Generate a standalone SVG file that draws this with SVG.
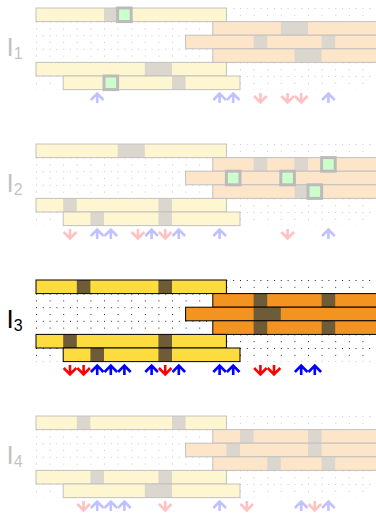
<svg xmlns="http://www.w3.org/2000/svg" xmlns:xlink="http://www.w3.org/1999/xlink" width="376" height="514" viewBox="0 0 376 514">
<style>
.y{fill:#FDDC3F}
.o{fill:#F49420}
.d{fill:#6E5C38}
.ol{fill:none;stroke:#000;stroke-width:1}
.hl{fill:#CCFFCC;stroke:#BBBBBB;stroke-width:3}
.ar{fill:none;stroke-width:2.6;stroke-linejoin:miter}
.up{stroke:#0000FF}
.dn{stroke:#FF0000}
.lab{font-family:"Liberation Sans",Arial,sans-serif;fill:#000}
.grid{fill:url(#dots)}
</style>
<defs>
<pattern id="dots" patternUnits="userSpaceOnUse" x="36" y="0" width="13.6" height="13.6">
<rect x="0" y="0" width="1" height="1" fill="#222"/>
<rect x="6.8" y="0" width="1" height="1" fill="#222"/>
<rect x="0" y="6.8" width="1" height="1" fill="#222"/>
</pattern>
<path id="adn" class="ar" d="M0,-5 V3.5 M-6.3,-2 L0,4.3 L6.3,-2"/>
<path id="aup" class="ar" d="M0,5 V-3.5 M-6.3,2 L0,-4.3 L6.3,2"/>
</defs>

<!-- Panel 1 -->
<g id="panel1" transform="translate(0,8)">
<g opacity="0.24">
<rect class="grid" x="36" y="0" width="340" height="81.6"/>
<text class="lab" x="6.5" y="48" font-size="26">I<tspan font-size="16" dy="3">1</tspan></text>
<g id="p1-r0"><rect class="y" x="36" y="0" width="190.4" height="13.6"/><rect class="d" x="104" y="0" width="13.6" height="13.6"/><rect class="ol" x="36" y="0" width="190.4" height="13.6"/></g>
<g id="p1-r1"><rect class="o" x="212.8" y="13.6" width="167.2" height="13.6"/><rect class="d" x="280.8" y="13.6" width="27.2" height="13.6"/><rect class="ol" x="212.8" y="13.6" width="167.2" height="13.6"/></g>
<g id="p1-r2"><rect class="o" x="185.6" y="27.2" width="194.4" height="13.6"/><rect class="d" x="253.6" y="27.2" width="13.6" height="13.6"/><rect class="d" x="321.6" y="27.2" width="13.6" height="13.6"/><rect class="ol" x="185.6" y="27.2" width="194.4" height="13.6"/></g>
<g id="p1-r3"><rect class="o" x="212.8" y="40.8" width="167.2" height="13.6"/><rect class="d" x="294.4" y="40.8" width="27.2" height="13.6"/><rect class="ol" x="212.8" y="40.8" width="167.2" height="13.6"/></g>
<g id="p1-r4"><rect class="y" x="36" y="54.4" width="190.4" height="13.6"/><rect class="d" x="144.8" y="54.4" width="27.2" height="13.6"/><rect class="ol" x="36" y="54.4" width="190.4" height="13.6"/></g>
<g id="p1-r5"><rect class="y" x="63.2" y="68" width="176.8" height="13.6"/><rect class="d" x="172" y="68" width="13.6" height="13.6"/><rect class="ol" x="63.2" y="68" width="176.8" height="13.6"/></g>
<g id="p1-arrows">
<use xlink:href="#aup" class="up" x="97.2" y="90"/>
<use xlink:href="#aup" class="up" x="219.6" y="90"/>
<use xlink:href="#aup" class="up" x="233.2" y="90"/>
<use xlink:href="#adn" class="dn" x="260.4" y="90"/>
<use xlink:href="#adn" class="dn" x="287.6" y="90"/>
<use xlink:href="#adn" class="dn" x="301.2" y="90"/>
<use xlink:href="#aup" class="up" x="328.4" y="90"/>
</g>
</g>
<g id="p1-hl">
<rect class="hl" x="117.6" y="0" width="13.6" height="13.6"/>
<rect class="hl" x="104" y="68" width="13.6" height="13.6"/>
</g>
</g>

<!-- Panel 2 -->
<g id="panel2" transform="translate(0,144)">
<g opacity="0.24">
<rect class="grid" x="36" y="0" width="340" height="81.6"/>
<text class="lab" x="6.5" y="48" font-size="26">I<tspan font-size="16" dy="3">2</tspan></text>
<g id="p2-r0"><rect class="y" x="36" y="0" width="190.4" height="13.6"/><rect class="d" x="117.6" y="0" width="27.2" height="13.6"/><rect class="ol" x="36" y="0" width="190.4" height="13.6"/></g>
<g id="p2-r1"><rect class="o" x="212.8" y="13.6" width="167.2" height="13.6"/><rect class="d" x="253.6" y="13.6" width="13.6" height="13.6"/><rect class="d" x="294.4" y="13.6" width="13.6" height="13.6"/><rect class="ol" x="212.8" y="13.6" width="167.2" height="13.6"/></g>
<g id="p2-r2"><rect class="o" x="185.6" y="27.2" width="194.4" height="13.6"/><rect class="ol" x="185.6" y="27.2" width="194.4" height="13.6"/></g>
<g id="p2-r3"><rect class="o" x="212.8" y="40.8" width="167.2" height="13.6"/><rect class="d" x="294.4" y="40.8" width="13.6" height="13.6"/><rect class="ol" x="212.8" y="40.8" width="167.2" height="13.6"/></g>
<g id="p2-r4"><rect class="y" x="36" y="54.4" width="190.4" height="13.6"/><rect class="d" x="63.2" y="54.4" width="13.6" height="13.6"/><rect class="d" x="158.4" y="54.4" width="13.6" height="13.6"/><rect class="ol" x="36" y="54.4" width="190.4" height="13.6"/></g>
<g id="p2-r5"><rect class="y" x="63.2" y="68" width="176.8" height="13.6"/><rect class="d" x="90.4" y="68" width="13.6" height="13.6"/><rect class="d" x="158.4" y="68" width="13.6" height="13.6"/><rect class="ol" x="63.2" y="68" width="176.8" height="13.6"/></g>
<g id="p2-arrows">
<use xlink:href="#adn" class="dn" x="70" y="90"/>
<use xlink:href="#aup" class="up" x="97.2" y="90"/>
<use xlink:href="#aup" class="up" x="110.8" y="90"/>
<use xlink:href="#adn" class="dn" x="138" y="90"/>
<use xlink:href="#aup" class="up" x="151.6" y="90"/>
<use xlink:href="#adn" class="dn" x="165.2" y="90"/>
<use xlink:href="#aup" class="up" x="178.8" y="90"/>
<use xlink:href="#aup" class="up" x="219.6" y="90"/>
<use xlink:href="#adn" class="dn" x="287.6" y="90"/>
<use xlink:href="#aup" class="up" x="328.4" y="90"/>
</g>
</g>
<g id="p2-hl">
<rect class="hl" x="321.6" y="13.6" width="13.6" height="13.6"/>
<rect class="hl" x="226.4" y="27.2" width="13.6" height="13.6"/>
<rect class="hl" x="280.8" y="27.2" width="13.6" height="13.6"/>
<rect class="hl" x="308" y="40.8" width="13.6" height="13.6"/>
</g>
</g>

<!-- Panel 3 -->
<g id="panel3" transform="translate(0,280)">
<rect class="grid" x="36" y="0" width="340" height="81.6"/>
<text class="lab" x="6.5" y="48" font-size="26">I<tspan font-size="16" dy="3">3</tspan></text>
<g id="p3-r0"><rect class="y" x="36" y="0" width="190.4" height="13.6"/><rect class="d" x="76.8" y="0" width="13.6" height="13.6"/><rect class="d" x="158.4" y="0" width="13.6" height="13.6"/><rect class="ol" x="36" y="0" width="190.4" height="13.6"/></g>
<g id="p3-r1"><rect class="o" x="212.8" y="13.6" width="167.2" height="13.6"/><rect class="d" x="253.6" y="13.6" width="13.6" height="13.6"/><rect class="d" x="321.6" y="13.6" width="13.6" height="13.6"/><rect class="ol" x="212.8" y="13.6" width="167.2" height="13.6"/></g>
<g id="p3-r2"><rect class="o" x="185.6" y="27.2" width="194.4" height="13.6"/><rect class="d" x="253.6" y="27.2" width="27.2" height="13.6"/><rect class="ol" x="185.6" y="27.2" width="194.4" height="13.6"/></g>
<g id="p3-r3"><rect class="o" x="212.8" y="40.8" width="167.2" height="13.6"/><rect class="d" x="253.6" y="40.8" width="13.6" height="13.6"/><rect class="d" x="321.6" y="40.8" width="13.6" height="13.6"/><rect class="ol" x="212.8" y="40.8" width="167.2" height="13.6"/></g>
<g id="p3-r4"><rect class="y" x="36" y="54.4" width="190.4" height="13.6"/><rect class="d" x="63.2" y="54.4" width="13.6" height="13.6"/><rect class="d" x="158.4" y="54.4" width="13.6" height="13.6"/><rect class="ol" x="36" y="54.4" width="190.4" height="13.6"/></g>
<g id="p3-r5"><rect class="y" x="63.2" y="68" width="176.8" height="13.6"/><rect class="d" x="90.4" y="68" width="13.6" height="13.6"/><rect class="d" x="158.4" y="68" width="13.6" height="13.6"/><rect class="ol" x="63.2" y="68" width="176.8" height="13.6"/></g>
<g id="p3-arrows">
<use xlink:href="#adn" class="dn" x="70" y="90"/>
<use xlink:href="#adn" class="dn" x="83.6" y="90"/>
<use xlink:href="#aup" class="up" x="97.2" y="90"/>
<use xlink:href="#aup" class="up" x="110.8" y="90"/>
<use xlink:href="#aup" class="up" x="124.4" y="90"/>
<use xlink:href="#aup" class="up" x="151.6" y="90"/>
<use xlink:href="#adn" class="dn" x="165.2" y="90"/>
<use xlink:href="#aup" class="up" x="178.8" y="90"/>
<use xlink:href="#aup" class="up" x="219.6" y="90"/>
<use xlink:href="#aup" class="up" x="233.2" y="90"/>
<use xlink:href="#adn" class="dn" x="260.4" y="90"/>
<use xlink:href="#adn" class="dn" x="274" y="90"/>
<use xlink:href="#aup" class="up" x="301.2" y="90"/>
<use xlink:href="#aup" class="up" x="314.8" y="90"/>
</g>
</g>

<!-- Panel 4 -->
<g id="panel4" transform="translate(0,416)">
<g opacity="0.24">
<rect class="grid" x="36" y="0" width="340" height="81.6"/>
<text class="lab" x="6.5" y="48" font-size="26">I<tspan font-size="16" dy="3">4</tspan></text>
<g id="p4-r0"><rect class="y" x="36" y="0" width="190.4" height="13.6"/><rect class="d" x="76.8" y="0" width="13.6" height="13.6"/><rect class="d" x="172" y="0" width="13.6" height="13.6"/><rect class="ol" x="36" y="0" width="190.4" height="13.6"/></g>
<g id="p4-r1"><rect class="o" x="212.8" y="13.6" width="167.2" height="13.6"/><rect class="d" x="240" y="13.6" width="13.6" height="13.6"/><rect class="d" x="308" y="13.6" width="13.6" height="13.6"/><rect class="ol" x="212.8" y="13.6" width="167.2" height="13.6"/></g>
<g id="p4-r2"><rect class="o" x="185.6" y="27.2" width="194.4" height="13.6"/><rect class="d" x="226.4" y="27.2" width="13.6" height="13.6"/><rect class="d" x="308" y="27.2" width="13.6" height="13.6"/><rect class="ol" x="185.6" y="27.2" width="194.4" height="13.6"/></g>
<g id="p4-r3"><rect class="o" x="212.8" y="40.8" width="167.2" height="13.6"/><rect class="d" x="267.2" y="40.8" width="13.6" height="13.6"/><rect class="d" x="321.6" y="40.8" width="13.6" height="13.6"/><rect class="ol" x="212.8" y="40.8" width="167.2" height="13.6"/></g>
<g id="p4-r4"><rect class="y" x="36" y="54.4" width="190.4" height="13.6"/><rect class="d" x="90.4" y="54.4" width="13.6" height="13.6"/><rect class="d" x="158.4" y="54.4" width="13.6" height="13.6"/><rect class="ol" x="36" y="54.4" width="190.4" height="13.6"/></g>
<g id="p4-r5"><rect class="y" x="63.2" y="68" width="176.8" height="13.6"/><rect class="d" x="144.8" y="68" width="27.2" height="13.6"/><rect class="ol" x="63.2" y="68" width="176.8" height="13.6"/></g>
<g id="p4-arrows">
<use xlink:href="#adn" class="dn" x="83.6" y="90"/>
<use xlink:href="#aup" class="up" x="97.2" y="90"/>
<use xlink:href="#aup" class="up" x="110.8" y="90"/>
<use xlink:href="#aup" class="up" x="124.4" y="90"/>
<use xlink:href="#adn" class="dn" x="165.2" y="90"/>
<use xlink:href="#aup" class="up" x="219.6" y="90"/>
<use xlink:href="#adn" class="dn" x="246.8" y="90"/>
<use xlink:href="#aup" class="up" x="301.2" y="90"/>
<use xlink:href="#adn" class="dn" x="314.8" y="90"/>
<use xlink:href="#aup" class="up" x="328.4" y="90"/>
</g>
</g>
</g>
</svg>
